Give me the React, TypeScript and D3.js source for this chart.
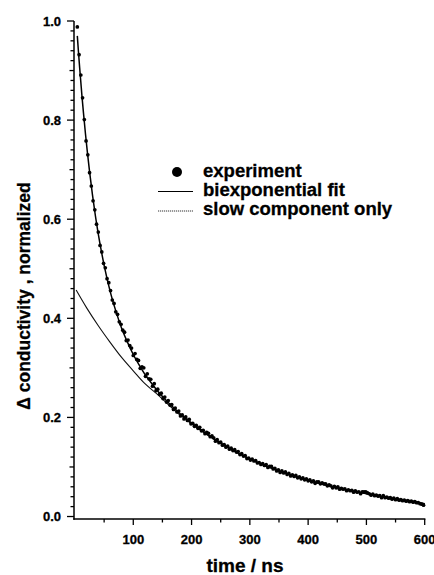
import React from "react";
import * as d3 from "d3";

// ---- data ----
const FIT_T = [4, 6, 8, 10, 12, 15, 18, 21, 25, 30, 35, 40, 45, 50, 60, 70, 80, 90, 100, 110, 120, 130, 140, 160, 180, 200, 250, 300, 350, 400, 450, 500, 550, 600];
const FIT_V = [0.970, 0.937, 0.906, 0.877, 0.848, 0.809, 0.772, 0.738, 0.696, 0.649, 0.607, 0.570, 0.537, 0.507, 0.456, 0.415, 0.380, 0.352, 0.327, 0.306, 0.287, 0.271, 0.256, 0.230, 0.208, 0.189, 0.148, 0.116, 0.092, 0.073, 0.058, 0.046, 0.035, 0.026];

const SLOW_T = [2, 20, 40, 60, 80, 100, 120, 140, 160, 180, 200, 250, 300, 350, 400, 450, 500, 550, 600];
const SLOW_V = [0.457, 0.421, 0.385, 0.352, 0.321, 0.294, 0.268, 0.248, 0.226, 0.205, 0.187, 0.147, 0.116, 0.092, 0.073, 0.058, 0.046, 0.035, 0.026];

// experiment: first sample at 4 ns, one sample every 3 ns
const EXP_START = 4;
const EXP_STEP = 3;
const EXP_V = [
  0.988, 0.932, 0.891, 0.845, 0.801, 0.758, 0.730, 0.694, 0.667, 0.637,
  0.619, 0.590, 0.574, 0.547, 0.534, 0.511, 0.502, 0.480, 0.472, 0.456,
  0.437, 0.430, 0.413, 0.408, 0.393, 0.388, 0.376, 0.372, 0.355, 0.356,
  0.345, 0.340, 0.325, 0.329, 0.317, 0.315, 0.299, 0.302, 0.300, 0.283,
  0.288, 0.278, 0.277, 0.263, 0.268, 0.254, 0.257, 0.247, 0.249, 0.238,
  0.241, 0.231, 0.234, 0.225, 0.226, 0.216, 0.219, 0.211, 0.213, 0.203,
  0.205, 0.197, 0.201, 0.194, 0.196, 0.187, 0.188, 0.182, 0.184, 0.178,
  0.180, 0.173, 0.174, 0.167, 0.170, 0.168, 0.161, 0.163, 0.159, 0.152,
  0.155, 0.149, 0.150, 0.144, 0.145, 0.140, 0.142, 0.136, 0.138, 0.133,
  0.135, 0.130, 0.131, 0.125, 0.127, 0.122, 0.123, 0.117, 0.118, 0.114,
  0.116, 0.112, 0.113, 0.108, 0.109, 0.105, 0.107, 0.103, 0.105, 0.099,
  0.101, 0.101, 0.096, 0.097, 0.092, 0.094, 0.089, 0.092, 0.088, 0.090,
  0.085, 0.087, 0.082, 0.084, 0.081, 0.083, 0.078, 0.080, 0.076, 0.078,
  0.074, 0.076, 0.072, 0.074, 0.070, 0.072, 0.067, 0.070, 0.070, 0.066,
  0.068, 0.066, 0.066, 0.062, 0.064, 0.062, 0.058, 0.061, 0.058, 0.060,
  0.055, 0.057, 0.055, 0.056, 0.052, 0.054, 0.052, 0.053, 0.049, 0.052,
  0.049, 0.050, 0.046, 0.050, 0.050, 0.050, 0.048, 0.046, 0.043, 0.045,
  0.042, 0.043, 0.041, 0.042, 0.038, 0.042, 0.038, 0.039, 0.037, 0.038,
  0.035, 0.037, 0.034, 0.036, 0.033, 0.034, 0.032, 0.033, 0.031, 0.032,
  0.030, 0.031, 0.029, 0.030, 0.028, 0.028, 0.026, 0.025, 0.023,
];

const X_TICKS = [100, 200, 300, 400, 500, 600];
const X_MINOR = [50, 150, 250, 350, 450, 550];
const Y_TICKS = [0, 0.2, 0.4, 0.6, 0.8, 1.0];
const Y_TICK_LABELS = ["0.0", "0.2", "0.4", "0.6", "0.8", "1.0"];

const LEGEND = ["experiment", "biexponential fit", "slow component only"];

const W = 434;
const H = 575;
const FONT = "'Liberation Sans', Arial, Helvetica, sans-serif";

export default function App() {
  const x = d3.scaleLinear().domain([-1.7, 600]).range([74, 424.7]);
  const y = d3.scaleLinear().domain([-0.005, 1.0]).range([519, 21]);

  const fitPts: [number, number][] = FIT_T.map((t, i) => [t, FIT_V[i]]);
  const slowPts: [number, number][] = SLOW_T.map((t, i) => [t, SLOW_V[i]]);
  const expPts = EXP_V.map((v, i) => [EXP_START + i * EXP_STEP, v]);

  const line = d3
    .line<[number, number]>()
    .x((d) => x(d[0]))
    .y((d) => y(d[1]))
    .curve(d3.curveMonotoneX);

  const yMinor = d3.range(0, 51).map((i) => i * 0.02);

  const x0 = x.range()[0];
  const y0 = y.range()[0];

  const textStroke = { stroke: "#000", strokeWidth: 0.3 };

  return (
    <svg
      width={W}
      height={H}
      viewBox={`0 0 ${W} ${H}`}
      style={{ position: "absolute", left: 0, top: 0, background: "#fff" }}
      fontFamily={FONT}
    >
      <rect x={0} y={0} width={W} height={H} fill="#fff" />

      {/* slow component */}
      <path d={line(slowPts) || ""} fill="none" stroke="#111" strokeWidth={1.1} />
      {/* biexponential fit */}
      <path d={line(fitPts) || ""} fill="none" stroke="#000" strokeWidth={1.5} />
      {/* experiment */}
      {expPts.map((d, i) => (
        <circle key={i} cx={x(d[0])} cy={y(d[1])} r={1.85} fill="#000" />
      ))}

      {/* Y axis */}
      <line x1={x0} x2={x0} y1={y(1.0)} y2={y0 + 0.7} stroke="#000" strokeWidth={1.5} />
      {yMinor.map((v, i) => {
        const isMajor = i % 10 === 0;
        const isMid = i % 5 === 0;
        const len = isMajor ? 7 : isMid ? 4.5 : 3.5;
        return (
          <line key={i} x1={x0 - len} x2={x0} y1={y(v)} y2={y(v)} stroke="#000" strokeWidth={1.3} />
        );
      })}
      {Y_TICKS.map((v, i) => (
        <text
          key={i}
          x={61}
          y={y(v)}
          dy="0.36em"
          textAnchor="end"
          fontSize={13}
          fontWeight="bold"
          fill="#000"
          {...textStroke}
        >
          {Y_TICK_LABELS[i]}
        </text>
      ))}

      {/* X axis */}
      <line x1={x0 - 0.7} x2={x(600) + 0.7} y1={y0} y2={y0} stroke="#000" strokeWidth={1.5} />
      {X_TICKS.map((t) => (
        <line key={t} x1={x(t)} x2={x(t)} y1={y0} y2={y0 + 6} stroke="#000" strokeWidth={1.3} />
      ))}
      {X_MINOR.map((t) => (
        <line key={t} x1={x(t)} x2={x(t)} y1={y0} y2={y0 + 3.5} stroke="#000" strokeWidth={1.3} />
      ))}
      {X_TICKS.map((t) => (
        <text key={t} x={x(t)} y={544} textAnchor="middle" fontSize={13} fontWeight="bold" fill="#000" {...textStroke}>
          {t}
        </text>
      ))}

      {/* axis titles */}
      <text x={245} y={572} textAnchor="middle" fontSize={19} fontWeight="bold" fill="#000" {...textStroke}>
        time / ns
      </text>
      <text
        transform="translate(30,296) rotate(-90)"
        textAnchor="middle"
        fontSize={17.5}
        fontWeight="bold"
        fill="#000"
        {...textStroke}
      >
        Δ conductivity , normalized
      </text>

      {/* legend */}
      <circle cx={177} cy={172} r={5} fill="#000" />
      <line x1={158} x2={193} y1={191.5} y2={191.5} stroke="#000" strokeWidth={1.2} />
      <line x1={158} x2={193} y1={211} y2={211} stroke="#333" strokeWidth={1} strokeDasharray="1.2,0.8" />
      {LEGEND.map((s, i) => (
        <text key={s} x={203} y={177 + i * 19.2} fontSize={18.5} fontWeight="bold" fill="#000" {...textStroke}>
          {s}
        </text>
      ))}
    </svg>
  );
}
